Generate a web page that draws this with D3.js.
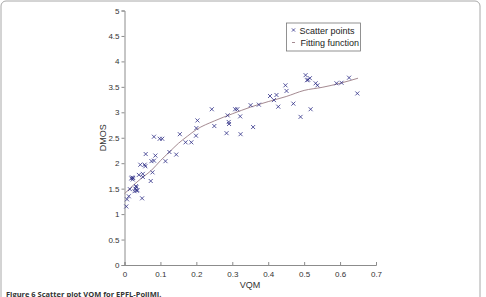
<!DOCTYPE html>
<html>
<head>
<meta charset="utf-8">
<script src="https://cdn.jsdelivr.net/npm/d3@7"></script>
<style>
  body { margin: 0; background: #fff; }
  svg { display: block; font-family: "Liberation Sans", Arial, sans-serif; }
</style>
</head>
<body>
<svg id="chart" width="486" height="297"></svg>
<script>
// scatter points
const vqm = [0.005, 0.007, 0.012, 0.015, 0.019, 0.021, 0.023, 0.024, 0.028, 0.030,
  0.033, 0.034, 0.036, 0.032, 0.040, 0.044, 0.049, 0.051, 0.051, 0.056,
  0.058, 0.059, 0.073, 0.078, 0.075, 0.082, 0.082, 0.086, 0.098, 0.105,
  0.114, 0.125, 0.144, 0.154, 0.170, 0.186, 0.199, 0.200, 0.203, 0.243,
  0.250, 0.284, 0.287, 0.290, 0.291, 0.308, 0.314, 0.322, 0.323, 0.351,
  0.358, 0.374, 0.405, 0.423, 0.416, 0.428, 0.448, 0.451, 0.470, 0.490,
  0.504, 0.508, 0.511, 0.516, 0.518, 0.532, 0.537, 0.590, 0.604, 0.625, 0.648];
const dmos = [1.15, 1.29, 1.35, 1.49, 1.70, 1.72, 1.68, 1.71, 1.45, 1.50,
  1.53, 1.46, 1.47, 1.55, 1.77, 1.97, 1.31, 1.73, 1.79, 1.97,
  1.94, 2.18, 1.65, 1.82, 2.04, 2.05, 2.52, 2.15, 2.48, 2.48,
  2.04, 2.22, 2.17, 2.57, 2.41, 2.41, 2.54, 2.69, 2.84, 3.06,
  2.73, 2.59, 2.94, 2.81, 2.77, 3.06, 3.06, 2.92, 2.57, 3.14,
  2.71, 3.15, 3.32, 3.34, 3.24, 3.11, 3.53, 3.42, 3.17, 2.91,
  3.73, 3.63, 3.64, 3.67, 3.06, 3.57, 3.53, 3.57, 3.58, 3.68, 3.37];

// fitting function, sampled from the drawn curve
const fitX = [0, 0.025, 0.05, 0.075, 0.1, 0.125, 0.15, 0.175, 0.2, 0.25, 0.3, 0.35, 0.4, 0.45, 0.5, 0.55, 0.6, 0.65];
const fitY = [1.40, 1.57, 1.72, 1.86, 2.05, 2.22, 2.39, 2.53, 2.66, 2.83, 2.97, 3.10, 3.21, 3.31, 3.43, 3.49, 3.57, 3.67];

const xTicks = [0, 0.1, 0.2, 0.3, 0.4, 0.5, 0.6, 0.7];
const yTicks = [0, 0.5, 1, 1.5, 2, 2.5, 3, 3.5, 4, 4.5, 5];
const legendLabels = ["Scatter points", "Fitting function"];

const svg = d3.select("#chart");

// panel frame
svg.append("rect")
  .attr("x", 1).attr("y", 1).attr("width", 479).attr("height", 320)
  .attr("rx", 5)
  .attr("fill", "none").attr("stroke", "#a8a8a8").attr("stroke-width", 1);

const x = d3.scaleLinear().domain([0, 0.7]).range([124.5, 376]);
const y = d3.scaleLinear().domain([0, 5]).range([265, 10.5]);

// x axis
const gx = svg.append("g")
  .attr("transform", `translate(0,${y(0)})`)
  .call(d3.axisBottom(x).tickValues(xTicks).tickFormat(d3.format("")).tickSize(-3).tickPadding(5));
gx.selectAll("text").attr("dy", "0.35em").attr("y", 9);

// y axis
const gy = svg.append("g")
  .attr("transform", `translate(${x(0)},0)`)
  .call(d3.axisLeft(y).tickValues(yTicks).tickFormat(d3.format("")).tickSize(3).tickPadding(2));

[gx, gy].forEach(g => {
  g.select(".domain").attr("stroke", "#8c8c8c");
  g.selectAll(".tick line").attr("stroke", "#8c8c8c");
  g.selectAll("text").attr("fill", "#333").style("font-size", "8px");
});

// axis labels
svg.append("text")
  .attr("x", 250).attr("y", 287.5)
  .attr("text-anchor", "middle")
  .style("font-size", "9px").attr("fill", "#333")
  .text("VQM");

svg.append("text")
  .attr("transform", `translate(106,${(y(0) + y(5)) / 2}) rotate(-90)`)
  .attr("text-anchor", "middle")
  .style("font-size", "9px").attr("fill", "#333")
  .text("DMOS");

// fitting line
const fit = fitX.map((d, i) => [d, fitY[i]]);
svg.append("path")
  .datum(fit)
  .attr("fill", "none")
  .attr("stroke", "#9a7d84")
  .attr("stroke-width", 0.9)
  .attr("d", d3.line().x(d => x(d[0])).y(d => y(d[1])).curve(d3.curveMonotoneX));

// scatter x markers
const s = 2;
const pts = vqm.map((d, i) => [d, dmos[i]]);
svg.append("g").selectAll("path")
  .data(pts)
  .join("path")
  .attr("d", d => {
    const px = x(d[0]), py = y(d[1]);
    return `M${px - s},${py - s}L${px + s},${py + s}M${px - s},${py + s}L${px + s},${py - s}`;
  })
  .attr("stroke", "#2e2e86")
  .attr("stroke-width", 0.8);

// legend
const lg = svg.append("g").attr("transform", "translate(286.5,23)");
lg.append("rect")
  .attr("width", 74).attr("height", 28)
  .attr("fill", "#fff").attr("stroke", "#777").attr("stroke-width", 0.8);
lg.append("path")
  .attr("d", `M${7 - 1.6},${7 - 1.6}L${7 + 1.6},${7 + 1.6}M${7 - 1.6},${7 + 1.6}L${7 + 1.6},${7 - 1.6}`)
  .attr("stroke", "#2e2e86").attr("stroke-width", 0.8);
lg.append("line")
  .attr("x1", 5.5).attr("x2", 8.5).attr("y1", 19.5).attr("y2", 19.5)
  .attr("stroke", "#9a7d84").attr("stroke-width", 0.9);
lg.selectAll("text.lbl")
  .data(legendLabels)
  .join("text")
  .attr("class", "lbl")
  .attr("x", (d, i) => i === 0 ? 13 : 14)
  .attr("y", (d, i) => 10.5 + i * 12.5)
  .style("font-size", "9px").attr("fill", "#222")
  .text(d => d);

// caption
svg.append("text")
  .attr("x", 6).attr("y", 296.5)
  .style("font-family", "'Open Sans', sans-serif")
  .style("font-size", "7.5px").style("font-weight", "bold").attr("fill", "#333")
  .text("Figure 6 Scatter plot VQM for EPFL-PoliMI.");
</script>
</body>
</html>
